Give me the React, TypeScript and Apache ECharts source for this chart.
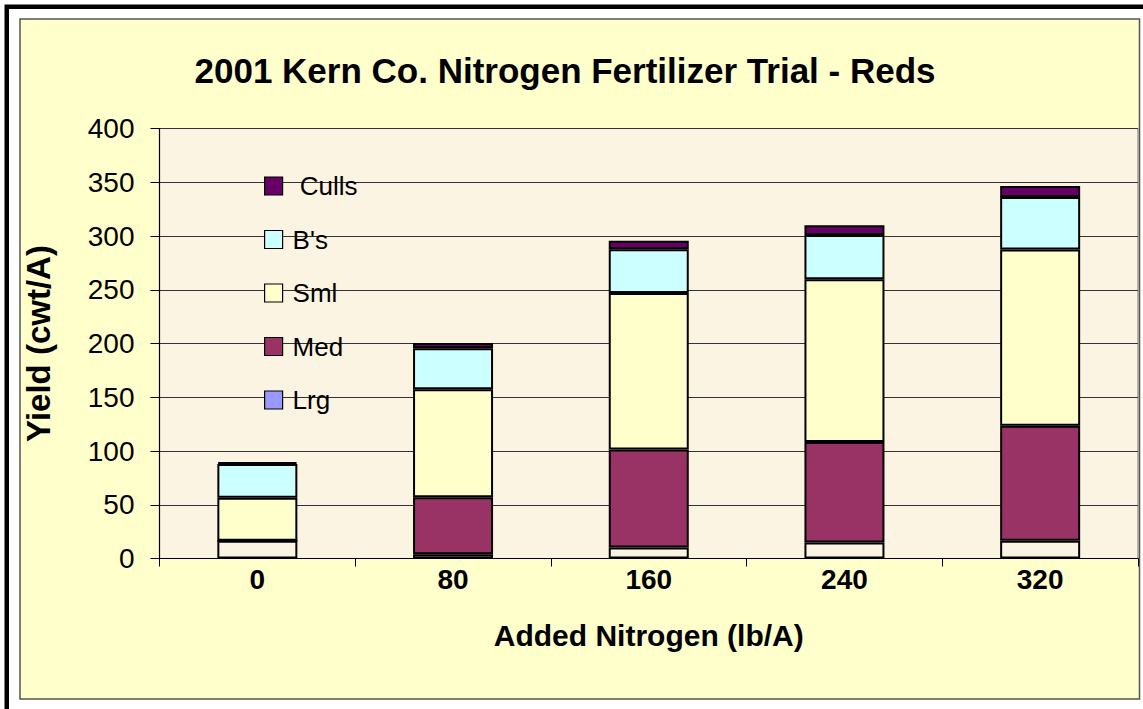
import React, { useEffect, useRef } from "react";
import * as echarts from "echarts";

const categories = ["0", "80", "160", "240", "320"];
const lrg = [16.5, 4, 10.3, 15, 16.4];
const med = [0, 53, 91.2, 93.4, 107.2];
const sml = [40, 100.5, 145.5, 151.4, 163.9];
const bs = [31.5, 38, 40.7, 41.2, 48.7];
const culls = [1.5, 5, 7.8, 9, 10.3];

const FONT = "'Liberation Sans', Arial, sans-serif";
const PLOT_BG = "#FCF4E3";

export default function App() {
  const ref = useRef<HTMLDivElement>(null);
  useEffect(() => {
    if (!ref.current) return;
    const chart = echarts.init(ref.current, undefined, { renderer: "svg" });
    const barBase = {
      type: "bar",
      stack: "total",
      barWidth: 80,
      itemStyle: { borderColor: "#000", borderWidth: 2 },
    };
    chart.setOption({
      animation: false,
      backgroundColor: "#ffffff",
      textStyle: { fontFamily: FONT },
      graphic: [
        {
          type: "rect",
          shape: { x: 6.75, y: 6.75, width: 1160, height: 720 },
          style: { fill: "none", stroke: "#000", lineWidth: 4.5 },
          silent: true,
          z: -10,
        },
        {
          type: "rect",
          shape: { x: 20, y: 19, width: 1119.5, height: 680 },
          style: { fill: "#FFFFCC", stroke: "#555", lineWidth: 1.5 },
          silent: true,
          z: -10,
        },
      ],
      title: {
        text: "2001 Kern Co. Nitrogen Fertilizer Trial - Reds",
        left: 560,
        top: 48,
        textAlign: "center",
        textStyle: {
          fontFamily: FONT,
          fontWeight: "bold",
          fontSize: 35,
          color: "#000",
        },
      },
      legend: {
        orient: "vertical",
        left: 259,
        top: 168,
        icon: "rect",
        itemWidth: 18,
        itemHeight: 18,
        itemGap: 27.5,
        formatter: (n: string) => (n === "Culls" ? " Culls" : n),
        textStyle: {
          fontFamily: FONT,
          fontSize: 26,
          lineHeight: 26,
          color: "#000",
          padding: [0, 0, 0, 5],
        },
        itemStyle: { borderColor: "#000", borderWidth: 1.2 },
        data: [
          { name: "Culls" },
          { name: "B's" },
          { name: "Sml" },
          { name: "Med" },
          { name: "Lrg", itemStyle: { color: "#9999FF" } },
        ],
      },
      grid: {
        left: 159.5,
        top: 128.5,
        width: 978.5,
        height: 430,
        show: true,
        backgroundColor: PLOT_BG,
        borderColor: "#777",
        borderWidth: 1,
        containLabel: false,
      },
      xAxis: {
        type: "category",
        data: categories,
        name: "Added Nitrogen (lb/A)",
        nameLocation: "middle",
        nameGap: 62,
        nameTextStyle: { fontFamily: FONT, fontWeight: "bold", fontSize: 30, color: "#000" },
        axisLine: { lineStyle: { color: "#000", width: 1.2 } },
        axisTick: { show: true, length: 8, lineStyle: { color: "#000" } },
        axisLabel: { fontFamily: FONT, fontWeight: "bold", fontSize: 28, color: "#000", margin: 7 },
      },
      yAxis: {
        type: "value",
        min: 0,
        max: 400,
        interval: 50,
        name: "Yield (cwt/A)",
        nameLocation: "middle",
        nameGap: 105,
        nameTextStyle: { fontFamily: FONT, fontWeight: "bold", fontSize: 33, color: "#000" },
        axisLine: { show: true, lineStyle: { color: "#000", width: 1.2 } },
        axisTick: { show: true, length: 9, inside: false, lineStyle: { color: "#000" } },
        axisLabel: { fontFamily: FONT, fontSize: 28, color: "#000", margin: 25 },
        splitLine: { show: true, lineStyle: { color: "#333", width: 1.2 } },
      },
      series: [
        { ...barBase, name: "Lrg", data: lrg, itemStyle: { ...barBase.itemStyle, color: PLOT_BG } },
        { ...barBase, name: "Med", data: med, itemStyle: { ...barBase.itemStyle, color: "#993366" } },
        { ...barBase, name: "Sml", data: sml, itemStyle: { ...barBase.itemStyle, color: "#FFFFCC" } },
        { ...barBase, name: "B's", data: bs, itemStyle: { ...barBase.itemStyle, color: "#CCFFFF" } },
        { ...barBase, name: "Culls", data: culls, itemStyle: { ...barBase.itemStyle, color: "#660066" } },
      ],
    });
    return () => chart.dispose();
  }, []);
  return (
    <div
      ref={ref}
      style={{ position: "absolute", left: 0, top: 0, width: 1143, height: 709 }}
    />
  );
}
